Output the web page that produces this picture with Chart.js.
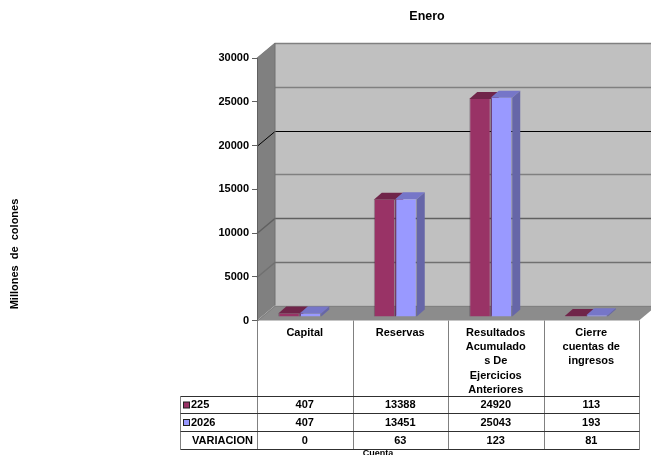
<!DOCTYPE html>
<html>
<head>
<meta charset="utf-8">
<title>Enero</title>
<script src="https://cdn.jsdelivr.net/npm/chart.js@4"></script>
<style>
  html, body { margin: 0; padding: 0; background: #fff; overflow: hidden; }
  canvas { display: block; }
</style>
</head>
<body>
<canvas id="chart" width="651" height="455"></canvas>
<script>
const categories = [
  ["Capital"],
  ["Reservas"],
  ["Resultados", "Acumulado", "s De", "Ejercicios", "Anteriores"],
  ["Cierre", "cuentas de", "ingresos"],
];
const values225 = [407, 13388, 24920, 113];
const values2026 = [407, 13451, 25043, 193];
const variacion = [0, 63, 123, 81];
const yTicks = [0, 5000, 10000, 15000, 20000, 25000, 30000];

const FONT = "'Liberation Sans', Arial, sans-serif";
const depthX = 18, depthY = -15;        // wall depth
const barDepthX = 8, barDepthY = -7;    // bar depth
const barShiftX = -5, barShiftY = -3.5; // bars stand a bit inside the floor
const gridColors = ["#808080", "#707070", "#606060", "#808080", "#000000", "#808080", "#808080"];

function poly(ctx, pts, fill) {
  ctx.beginPath();
  pts.forEach((p, i) => (i ? ctx.lineTo(p[0], p[1]) : ctx.moveTo(p[0], p[1])));
  ctx.closePath();
  ctx.fillStyle = fill;
  ctx.fill();
}

// walls and floor behind the bars
const walls = {
  id: "walls",
  beforeDraw(chart) {
    const { ctx, chartArea: a, scales: { y } } = chart;
    const d = depthX, h = depthY;
    poly(ctx, [[a.left + d, a.top + h], [a.right + d, a.top + h], [a.right + d, a.bottom + h], [a.left + d, a.bottom + h]], "#c0c0c0");
    poly(ctx, [[a.left, a.top], [a.left + d, a.top + h], [a.left + d, a.bottom + h], [a.left, a.bottom]], "#808080");
    poly(ctx, [[a.left, a.bottom], [a.left + d, a.bottom + h], [a.right + d, a.bottom + h], [a.right, a.bottom]], "#8c8c8c");
    yTicks.forEach((t, i) => {
      const py = Math.round(y.getPixelForValue(t)) + 0.5;
      ctx.strokeStyle = gridColors[i];
      ctx.lineWidth = t === 0 || t === 20000 ? 1 : 1.5;
      ctx.beginPath();
      ctx.moveTo(a.left, py);
      ctx.lineTo(a.left + d, py + h);
      ctx.lineTo(a.right + d, py + h);
      ctx.stroke();
    });
    ctx.lineWidth = 1;
    ctx.strokeStyle = "#707070";
    ctx.beginPath();
    ctx.moveTo(a.left + d, a.top + h);
    ctx.lineTo(a.left + d, a.bottom + h);
    ctx.stroke();
  },
};

// top and side of every bar, the library draws the front on top of them
const bars3d = {
  id: "bars3d",
  beforeDatasetsDraw(chart) {
    const { ctx } = chart;
    ctx.save();
    ctx.translate(barShiftX, barShiftY);
    chart.data.datasets.forEach((ds, di) => {
      chart.getDatasetMeta(di).data.forEach((bar) => {
        const l = bar.x - bar.width / 2, r = bar.x + bar.width / 2;
        poly(ctx, [[l, bar.y], [l + barDepthX, bar.y + barDepthY], [r + barDepthX, bar.y + barDepthY], [r, bar.y]], ds.topColor);
        poly(ctx, [[r, bar.y], [r + barDepthX, bar.y + barDepthY], [r + barDepthX, bar.base + barDepthY], [r, bar.base]], ds.sideColor);
      });
    });
  },
  afterDatasetsDraw(chart) {
    chart.ctx.restore();
  },
};

// data table under the axis, title and axis captions
const table = {
  id: "table",
  afterDraw(chart) {
    const { ctx, chartArea: a, scales: { x } } = chart;
    const rowY = [396.5, 413.5, 431.5, 449.5];
    const left = 180.5;
    const step = (a.right - a.left) / categories.length;
    const colX = categories.map((c, i) => Math.round(a.left + step * i) + 0.5);
    colX.push(Math.round(a.right) + 0.5);

    ctx.lineWidth = 1;
    ctx.strokeStyle = "#808080";
    colX.forEach((cx) => {
      ctx.beginPath();
      ctx.moveTo(cx, a.bottom);
      ctx.lineTo(cx, rowY[3]);
      ctx.stroke();
    });
    ctx.beginPath();
    ctx.moveTo(left, rowY[0]);
    ctx.lineTo(left, rowY[3]);
    ctx.stroke();
    ctx.strokeStyle = "#303030";
    rowY.forEach((ry) => {
      ctx.beginPath();
      ctx.moveTo(left, ry);
      ctx.lineTo(colX[4], ry);
      ctx.stroke();
    });

    ctx.font = "bold 11px " + FONT;
    ctx.fillStyle = "#000";
    ctx.textBaseline = "middle";
    const rows = [values225, values2026, variacion];
    rows.forEach((row, ri) => {
      const my = (rowY[ri] + rowY[ri + 1]) / 2;
      ctx.textAlign = "center";
      row.forEach((v, i) => ctx.fillText(String(v), x.getPixelForTick(i), my));
      ctx.textAlign = "left";
      if (ri < 2) {
        const ds = chart.data.datasets[ri];
        ctx.fillStyle = ds.backgroundColor;
        ctx.fillRect(183.5, my - 3, 6, 6);
        ctx.strokeStyle = "#202020";
        ctx.strokeRect(183.5, my - 3, 6, 6);
        ctx.fillStyle = "#000";
        ctx.fillText(ds.label, 191, my);
      } else {
        ctx.fillText("VARIACION", 192, my);
      }
    });

    ctx.textAlign = "center";
    ctx.font = "bold 9px " + FONT;
    ctx.fillText("Cuenta", 378, 454);
    ctx.font = "bold 12.5px " + FONT;
    ctx.fillText("Enero", 427, 17);

    ctx.save();
    ctx.translate(15, 254);
    ctx.rotate(-Math.PI / 2);
    ctx.font = "bold 11px " + FONT;
    ctx.fillText("Millones  de  colones", 0, 0);
    ctx.restore();
  },
};

const barEdges = { left: 1, right: 1, top: 0, bottom: 0 };

new Chart(document.getElementById("chart"), {
  type: "bar",
  plugins: [walls, bars3d, table],
  data: {
    labels: categories,
    datasets: [
      { label: "225", data: values225, backgroundColor: "#993366", topColor: "#70254a", sideColor: "#70254a", borderColor: "rgba(50,30,50,0.35)", borderWidth: barEdges },
      { label: "2026", data: values2026, backgroundColor: "#9999ff", topColor: "#7676c8", sideColor: "#6666a8", borderColor: "rgba(50,50,80,0.35)", borderWidth: barEdges },
    ],
  },
  options: {
    responsive: false,
    animation: false,
    devicePixelRatio: 1,
    layout: { padding: { left: 8, right: 12, top: 58, bottom: 0 } },
    categoryPercentage: 0.45,
    barPercentage: 1,
    plugins: { legend: { display: false }, tooltip: { enabled: false } },
    scales: {
      x: {
        afterFit(s) { s.height = 134.5; },
        grid: { display: false },
        border: { display: false },
        ticks: { color: "#000", padding: -3, maxRotation: 0, autoSkip: false, font: { family: FONT, size: 11, weight: "bold", lineHeight: 1.3 } },
      },
      y: {
        min: 0,
        max: 30000,
        afterFit(s) { s.width = 249; },
        afterBuildTicks(s) { s.ticks = yTicks.map((v) => ({ value: v })); },
        grid: { drawOnChartArea: false, drawTicks: true, tickLength: 5, color: "#606060" },
        border: { color: "#606060" },
        ticks: { color: "#000", padding: 3, callback: (v) => String(v), font: { family: FONT, size: 11, weight: "bold" } },
      },
    },
  },
});
</script>
</body>
</html>
